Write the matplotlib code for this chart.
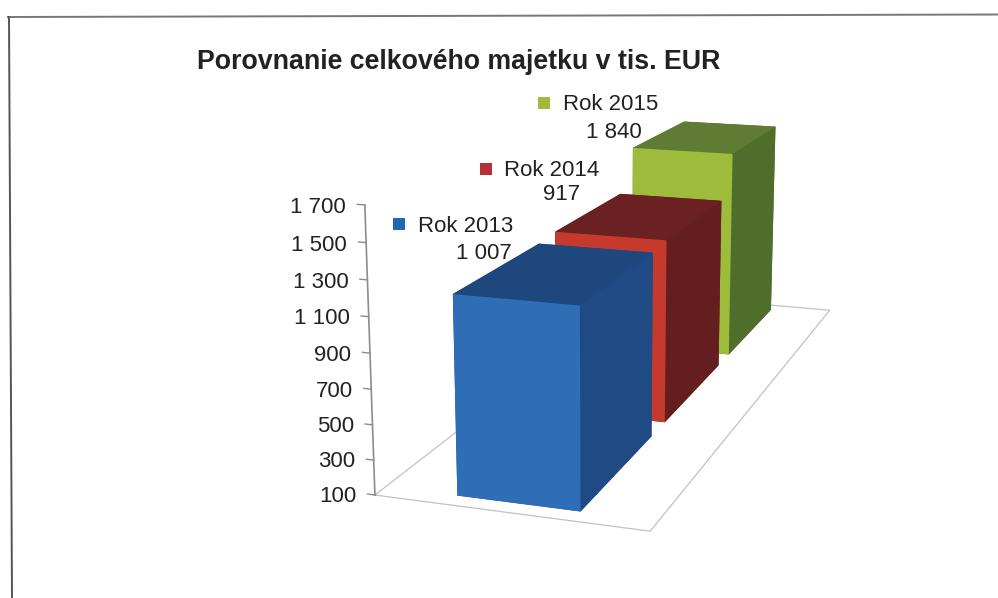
import matplotlib
matplotlib.use("Agg")
import matplotlib.pyplot as plt
from matplotlib.lines import Line2D
from matplotlib.patches import Rectangle
from mpl_toolkits.mplot3d import proj3d

plt.rcParams["font.family"] = ["Liberation Sans", "DejaVu Sans"]

title = "Porovnanie celkového majetku v tis. EUR"
years = ["Rok 2013", "Rok 2014", "Rok 2015"]
# values printed in the labels
label_values = ["1 007", "917", "1 840"]
# heights the bars actually reach against the axis (the picture does not follow its labels)
drawn_heights = [1226, 1241, 1512]
axis_ticks = [100, 300, 500, 700, 900, 1100, 1300, 1500, 1700]
axis_labels = ["100", "300", "500", "700", "900", "1 100", "1 300", "1 500", "1 700"]

# front, side, top colours per bar
front_colors = ["#2f6db7", "#c63a2e", "#9dbc3c"]
side_colors = ["#1f4a84", "#651e20", "#4f6d2b"]
top_colors = ["#1e477d", "#6b2022", "#5f7b34"]

W, H = 998, 598
fig = plt.figure(figsize=(W / 100, H / 100), dpi=100)


def fx(px):
    return px / W


def fy(py):
    return 1 - py / H


# camera fitted against the corners of the bars in the reference
ax = fig.add_axes([0, 0, 1, 1], projection="3d", computed_zorder=False)
ax.set_xlim(0, 1)
ax.set_ylim(0, 3)
ax.set_zlim(100, 1700)
ax.view_init(elev=13.8498, azim=-72.2143, roll=-0.3255)
ax.set_proj_type("persp", focal_length=0.4039)
ax.set_box_aspect((1, 2.9066, 1.0250))
ax.set_axis_off()
ax.patch.set_alpha(0)

scale, cx, cy = 4143.44, 641.92, 267.72
vl = ax.viewLim
ax.set_position([
    (cx + scale * vl.x0) / W,
    (H - cy + scale * vl.y0) / H,
    scale * vl.width / W,
    scale * vl.height / H,
])
ax.apply_aspect()

# floor
floor_x = [0, 1, 1, 0, 0]
floor_y = [0, 0, 3, 3, 0]
ax.plot(floor_x, floor_y, [100] * 5, color="#c2c2c2", lw=0.9, zorder=1)

# value axis
ax.plot([0, 0], [0, 0], [axis_ticks[0], axis_ticks[-1]], color="#8c8c8c", lw=1.2, zorder=2)
M = ax.get_proj()
for t, lab in zip(axis_ticks, axis_labels):
    ax.plot([-0.028, 0], [0, 0], [t, t], color="#8c8c8c", lw=1.0, zorder=2)
    xp, yp, _ = proj3d.proj_transform(-0.07, 0, t, M)
    px, py = ax.transData.transform((xp, yp))
    fig.text(px / W, (py - 4) / H, lab, ha="right", va="center", fontsize=16, color="#222222")

# bars, back to front
gap = 0.0893
bar_x0, bar_x1 = 0.2720, 0.7255
for i in [2, 1, 0]:
    colors = [side_colors[i], top_colors[i], front_colors[i], side_colors[i], side_colors[i], side_colors[i]]
    ax.bar3d(bar_x0, i + gap, 100, bar_x1 - bar_x0, 1 - 2 * gap, drawn_heights[i] - 100,
             color=colors, shade=False, zorder=5 + 2 - i, linewidth=0)

# title and labels
fig.text(fx(197), fy(62), title, fontsize=19.3, fontweight="bold", color="#222222", va="center")

label_pos = [(418, 226, 512, 253), (504, 170, 580, 195), (563, 105, 642, 132)]
square_pos = [(393, 218), (480, 163), (538, 97)]
dark_squares = ["#2265b4", "#b5303a", "#9dbc3c"]
for i in range(3):
    x1, y1, x2, y2 = label_pos[i]
    fig.text(fx(x1), fy(y1), years[i], fontsize=16, color="#222222", va="center")
    fig.text(fx(x2), fy(y2), label_values[i], fontsize=16, color="#222222", va="center", ha="right")
    sx, sy = square_pos[i]
    fig.add_artist(Rectangle((fx(sx), fy(sy + 12)), 12 / W, 12 / H, transform=fig.transFigure,
                             facecolor=dark_squares[i], edgecolor="none"))

# scanned page border
fig.add_artist(Line2D([fx(8), fx(998)], [fy(17), fy(14.5)], color="#777777", lw=1.4))
fig.add_artist(Line2D([fx(9), fx(12)], [fy(17), fy(598)], color="#555555", lw=1.4))

fig.savefig("out.png", dpi=100)
